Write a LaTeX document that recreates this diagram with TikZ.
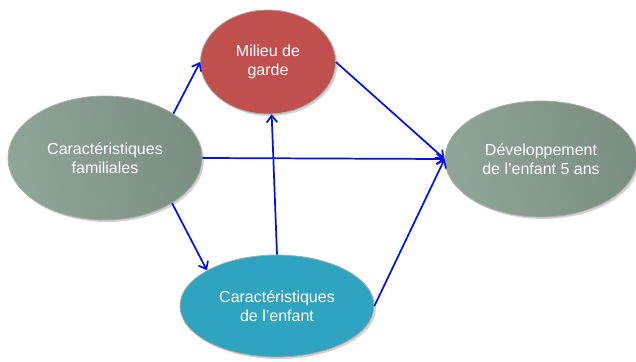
\documentclass[tikz,border=0pt]{standalone}
\usepackage{fontspec}
\setmainfont{Liberation Sans}
\usetikzlibrary{shapes.geometric,arrows.meta,shadows}
\definecolor{sagel}{HTML}{8FA597}
\definecolor{saged}{HTML}{7A8E81}
\definecolor{brick}{HTML}{C0504D}
\definecolor{teal2}{HTML}{2FA4C0}
\definecolor{arrowblue}{HTML}{0010F5}
\tikzset{
  bubble/.style={ellipse, inner sep=0pt, draw=gray!65, line width=0.6pt,
    text=white, align=center, font=\fontsize{12}{14.4}\selectfont,
    drop shadow={opacity=0.35, shadow xshift=1.5pt, shadow yshift=-1.5pt}},
  sage/.style={bubble, left color=sagel, right color=saged, shading angle=100},
  link/.style={draw=arrowblue, line width=1.3pt, -{Straight Barb[length=5pt,width=8pt]}}
}
\begin{document}
\begin{tikzpicture}[x=0.75pt,y=-0.75pt]
\useasboundingbox (0,0) rectangle (636,361);
\node[sage, minimum width=145.5pt, minimum height=93pt] (fam) at (105,158) {Caractéristiques\\familiales};
\node[bubble, fill=brick, minimum width=101.25pt, minimum height=78pt] (mil) at (268,62) {Milieu de\\garde};
\node[sage, minimum width=144pt, minimum height=87pt] (dev) at (541,159) {Développement\\de l’enfant 5 ans};
\node[bubble, fill=teal2, minimum width=145.5pt, minimum height=76.5pt] (bot) at (277,306) {Caractéristiques\\de l’enfant};
\draw[link] (fam.33) -- (mil.180);
\draw[link] (fam.east) -- (dev.west);
\draw[link] (fam.-34) -- (bot.153);
\draw[link] (bot.north) -- (mil.274);
\draw[link] (mil.east) -- (dev.west);
\draw[link] (bot.east) -- (dev.west);
\end{tikzpicture}
\end{document}
